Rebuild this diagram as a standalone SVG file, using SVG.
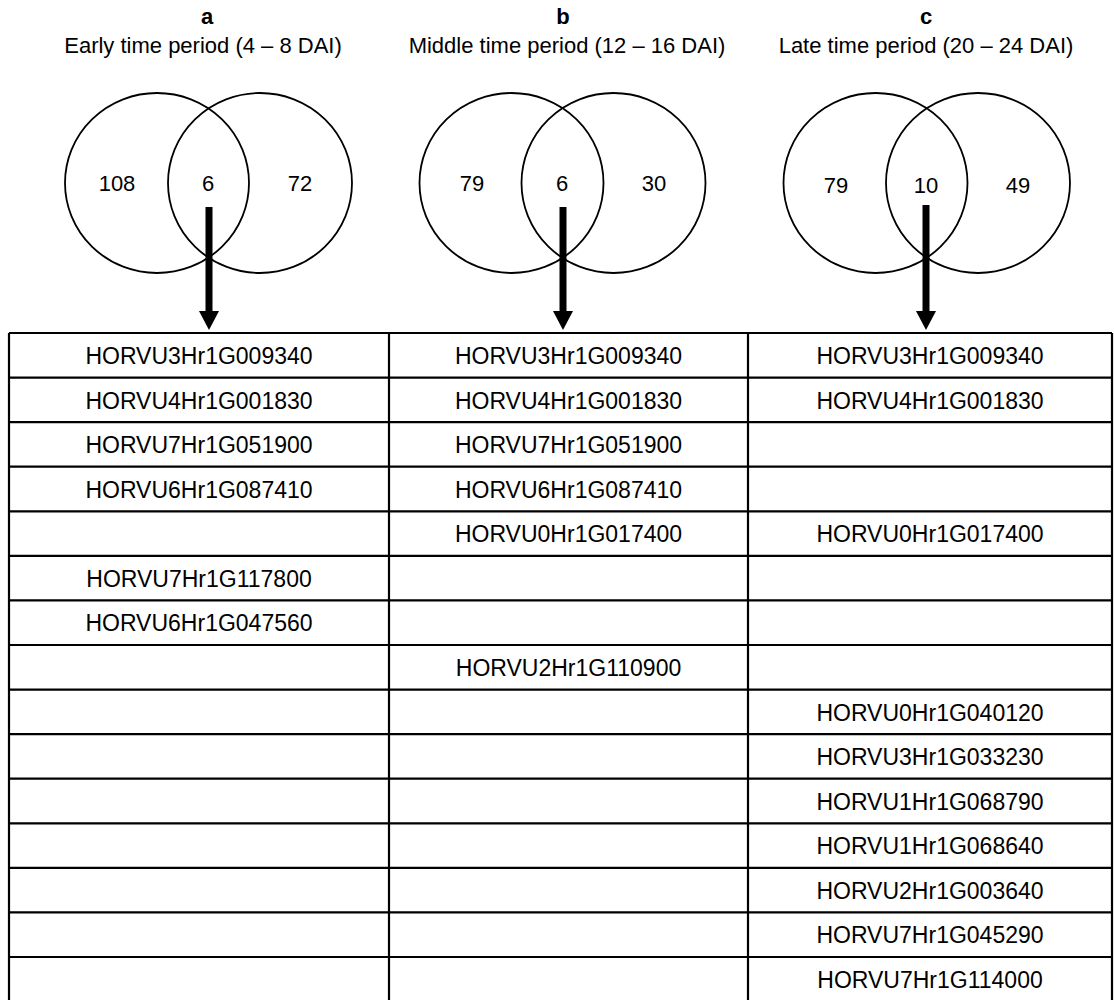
<svg xmlns="http://www.w3.org/2000/svg" width="1114" height="1000" viewBox="0 0 1114 1000">
<style>
text{font-family:"Liberation Sans",Arial,sans-serif;fill:#000;text-anchor:middle}
.hd{font-size:22px}
.lt{font-size:22px;font-weight:bold}
.num{font-size:22px}
.g{font-size:23px}
.c{fill:none;stroke:#000;stroke-width:1.8}
.grid{stroke:#000;stroke-width:2.2;fill:none}
.sh{stroke:#000;stroke-width:7}
</style>
<defs>
<polygon id="head" points="-10,0 10,0 0,19" fill="#000"/>
</defs>
<g id="header">
<text class="lt" x="207" y="24">a</text>
<text class="hd" x="203" y="53">Early time period (4 – 8 DAI)</text>
<text class="lt" x="563" y="24">b</text>
<text class="hd" x="567" y="53">Middle time period (12 – 16 DAI)</text>
<text class="lt" x="926" y="24">c</text>
<text class="hd" x="926" y="53">Late time period (20 – 24 DAI)</text>
</g>
<g id="venn-a">
<ellipse class="c" cx="157" cy="183" rx="92" ry="90"/>
<ellipse class="c" cx="260" cy="183" rx="92" ry="90"/>
<text class="num" x="117" y="191">108</text>
<text class="num" x="208" y="191">6</text>
<text class="num" x="300" y="191">72</text>
</g>
<g id="venn-b">
<ellipse class="c" cx="511.5" cy="183" rx="92" ry="90"/>
<ellipse class="c" cx="613.5" cy="183" rx="92" ry="90"/>
<text class="num" x="472" y="191">79</text>
<text class="num" x="562" y="191">6</text>
<text class="num" x="654" y="191">30</text>
</g>
<g id="venn-c">
<ellipse class="c" cx="875.5" cy="183" rx="92" ry="90"/>
<ellipse class="c" cx="978" cy="183" rx="92" ry="90"/>
<text class="num" x="836" y="193">79</text>
<text class="num" x="926" y="193">10</text>
<text class="num" x="1018" y="193">49</text>
</g>
<g id="connectors">
<line class="sh" x1="209" y1="207" x2="209" y2="314"/>
<use href="#head" x="209" y="311"/>
<line class="sh" x1="563" y1="207" x2="563" y2="314"/>
<use href="#head" x="563" y="311"/>
<line class="sh" x1="926" y1="205" x2="926" y2="314"/>
<use href="#head" x="926" y="311"/>
</g>
<g id="table">
<path class="grid" d="M9,333H1112 M9,377.6H1112 M9,422.1H1112 M9,466.7H1112 M9,511.3H1112 M9,555.9H1112 M9,600.4H1112 M9,645H1112 M9,689.6H1112 M9,734.1H1112 M9,778.7H1112 M9,823.3H1112 M9,867.9H1112 M9,912.4H1112 M9,957H1112 M9,1001.6H1112 M9,333V1002 M389,333V1002 M748,333V1002 M1112,333V1002"/>
<g class="g">
<text class="g" x="199" y="364">HORVU3Hr1G009340</text>
<text class="g" x="568.5" y="364">HORVU3Hr1G009340</text>
<text class="g" x="930" y="364">HORVU3Hr1G009340</text>
<text class="g" x="199" y="408.6">HORVU4Hr1G001830</text>
<text class="g" x="568.5" y="408.6">HORVU4Hr1G001830</text>
<text class="g" x="930" y="408.6">HORVU4Hr1G001830</text>
<text class="g" x="199" y="453.1">HORVU7Hr1G051900</text>
<text class="g" x="568.5" y="453.1">HORVU7Hr1G051900</text>
<text class="g" x="199" y="497.7">HORVU6Hr1G087410</text>
<text class="g" x="568.5" y="497.7">HORVU6Hr1G087410</text>
<text class="g" x="568.5" y="542.3">HORVU0Hr1G017400</text>
<text class="g" x="930" y="542.3">HORVU0Hr1G017400</text>
<text class="g" x="199" y="586.9">HORVU7Hr1G117800</text>
<text class="g" x="199" y="631.4">HORVU6Hr1G047560</text>
<text class="g" x="568.5" y="676">HORVU2Hr1G110900</text>
<text class="g" x="930" y="720.6">HORVU0Hr1G040120</text>
<text class="g" x="930" y="765.1">HORVU3Hr1G033230</text>
<text class="g" x="930" y="809.7">HORVU1Hr1G068790</text>
<text class="g" x="930" y="854.3">HORVU1Hr1G068640</text>
<text class="g" x="930" y="898.9">HORVU2Hr1G003640</text>
<text class="g" x="930" y="943.4">HORVU7Hr1G045290</text>
<text class="g" x="930" y="988">HORVU7Hr1G114000</text>
</g>
</g>
</svg>
